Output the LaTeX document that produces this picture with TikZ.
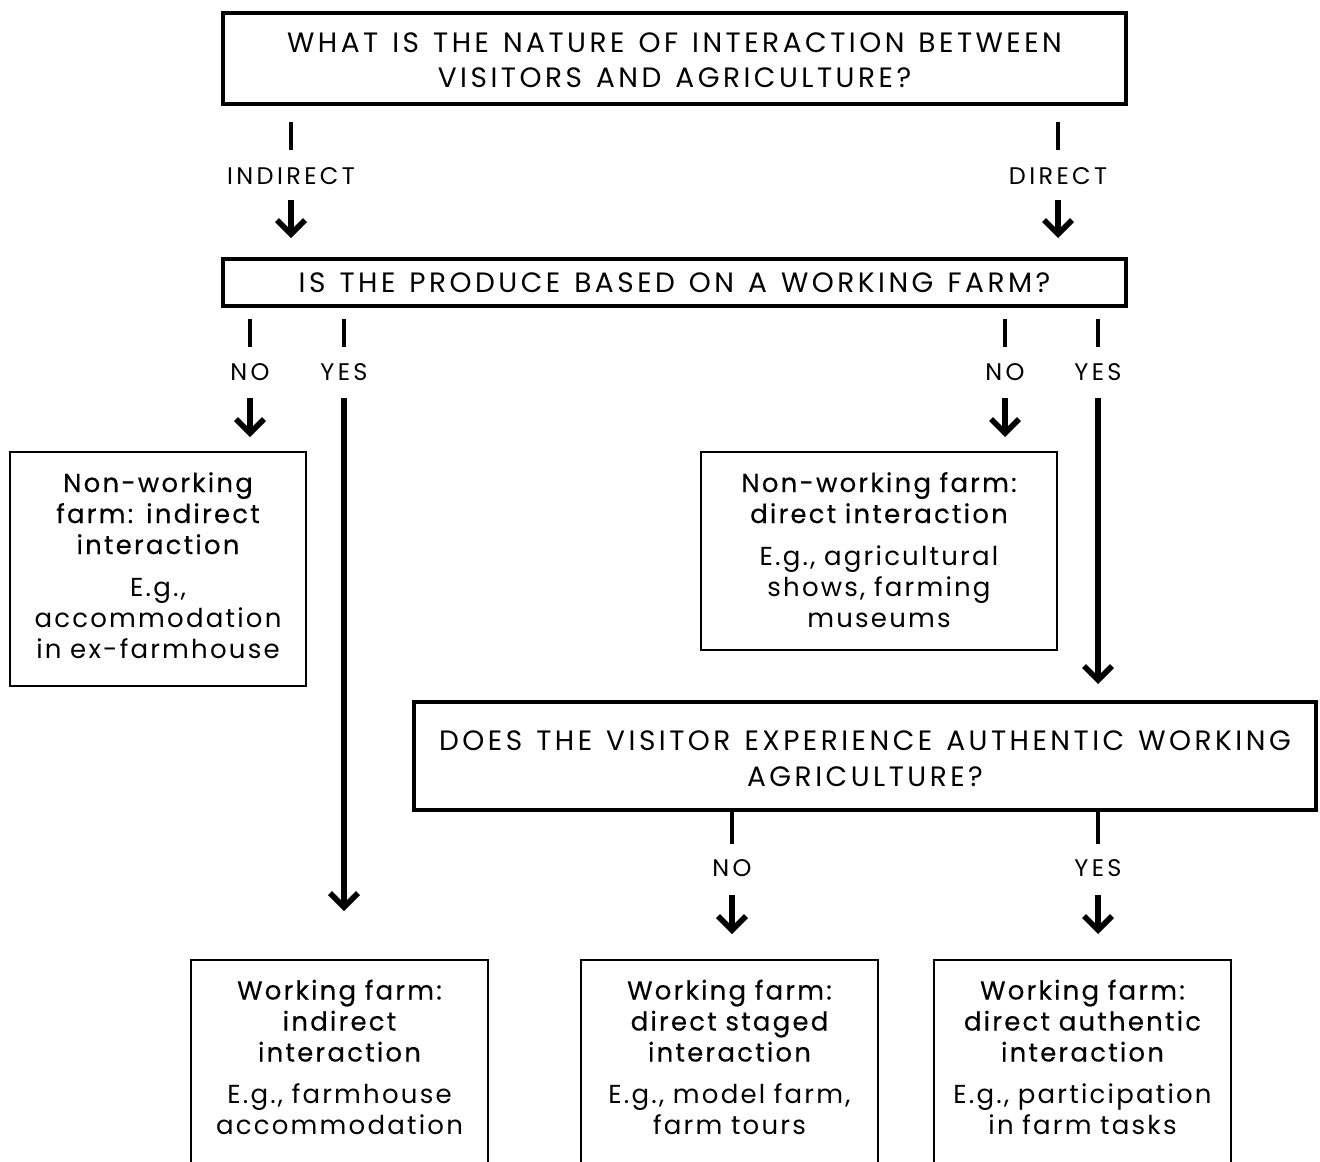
\documentclass[tikz,border=0pt]{standalone}
\usepackage{fontspec}
\setmainfont{Poppins}[LetterSpace=14]
\newfontfamily\qfont{Poppins}[LetterSpace=12.5]
\newfontfamily\headfont{Poppins}[LetterSpace=8.5,FakeBold=0.3]
\newfontfamily\bodyfont{Poppins}[LetterSpace=8.5]
\usetikzlibrary{arrows.meta}
\newcommand\toppad[1]{\rule{0pt}{#1}}
\newcommand\botpad[1]{\rule[-#1]{0pt}{#1}}
\newcommand\hl[1]{{\headfont #1}}
\newcommand\el[1]{{\bodyfont #1}}
\newcommand\qsp{\spaceskip=14pt\relax}
\tikzset{
  thickbox/.style={draw, line width=4pt, inner sep=0pt, align=center, font=\qfont\fontsize{28}{35}\selectfont},
  thinbox/.style={draw, line width=2pt, inner sep=0pt, align=center, font=\fontsize{26}{31}\selectfont},
  lbl/.style={font=\fontsize{24}{28}\selectfont, inner sep=0pt},
  tick/.style={line width=3.5pt},
  arr/.style={line width=5.5pt, -{Straight Barb[length=14pt,width=28pt]}},
}
\begin{document}
\begin{tikzpicture}[x=1pt,y=-1pt]
\fill[white] (0,0) rectangle (1320,1162);
\useasboundingbox (0,0) rectangle (1320,1162);

% question boxes
\node[thickbox, text width=903pt, minimum height=91pt] (q1) at (674.5,58.5)
  {\qsp\toppad{39pt}WHAT IS THE NATURE OF INTERACTION BETWEEN\\VISITORS AND AGRICULTURE?\botpad{17pt}};
\node[thickbox, text width=903pt, minimum height=47pt] (q2) at (674.5,282.5)
  {\qsp\toppad{33pt}IS THE PRODUCE BASED ON A WORKING FARM?\botpad{14pt}};
\node[thickbox, text width=902pt, minimum height=108pt] (q3) at (865,756)
  {\qsp\toppad{48pt}DOES THE VISITOR EXPERIENCE AUTHENTIC WORKING\\[1pt]AGRICULTURE?\botpad{24pt}};

% outcome boxes
\node[thinbox, text width=296pt, minimum height=234pt] (nw1) at (158,569)
  {\toppad{39.5pt}\hl{Non-working}\\\hl{farm: indirect}\\\hl{interaction}\\[11pt]\el{E.g.,}\\\el{accommodation}\\\el{in ex-farmhouse}\botpad{27.5pt}};
\node[thinbox, text width=356pt, minimum height=198pt] (nw2) at (879,551)
  {\toppad{39.5pt}\hl{Non-working farm:}\\\hl{direct interaction}\\[11pt]\el{E.g., agricultural}\\\el{shows, farming}\\\el{museums}\botpad{22.5pt}};

\begin{scope}
\clip (0,0) rectangle (1320,1162);
\node[thinbox, text width=297pt, minimum height=240pt] (wf1) at (339.5,1080)
  {\toppad{39.5pt}\hl{Working farm:}\\\hl{indirect}\\\hl{interaction}\\[11pt]\el{E.g., farmhouse}\\\el{accommodation}\botpad{65.5pt}};
\node[thinbox, text width=297pt, minimum height=240pt] (wf2) at (729.5,1080)
  {\toppad{39.5pt}\hl{Working farm:}\\\hl{direct staged}\\\hl{interaction}\\[11pt]\el{E.g., model farm,}\\\el{farm tours}\botpad{65.5pt}};
\node[thinbox, text width=297pt, minimum height=240pt] (wf3) at (1082.5,1080)
  {\toppad{39.5pt}\hl{Working farm:}\\\hl{direct authentic}\\\hl{interaction}\\[11pt]\el{E.g., participation}\\\el{in farm tasks}\botpad{65.5pt}};
\end{scope}

% labels
\node[lbl] (lInd) at (291,176) {INDIRECT};
\node[lbl] (lDir) at (1058,176) {DIRECT};
\node[lbl] (lNo1) at (250,372) {NO};
\node[lbl] (lYes1) at (344,372) {YES};
\node[lbl] (lNo2) at (1005,372) {NO};
\node[lbl] (lYes2) at (1098,372) {YES};
\node[lbl] (lNo3) at (732,868) {NO};
\node[lbl] (lYes3) at (1098,868) {YES};

% ticks
\draw[tick] ([yshift=-16pt]q1.south -| lInd) -- ([yshift=-44pt]q1.south -| lInd);
\draw[tick] ([yshift=-16pt]q1.south -| lDir) -- ([yshift=-44pt]q1.south -| lDir);
\draw[tick] ([yshift=-11pt]q2.south -| lNo1) -- ([yshift=-39pt]q2.south -| lNo1);
\draw[tick] ([yshift=-11pt]q2.south -| lYes1) -- ([yshift=-39pt]q2.south -| lYes1);
\draw[tick] ([yshift=-11pt]q2.south -| lNo2) -- ([yshift=-39pt]q2.south -| lNo2);
\draw[tick] ([yshift=-11pt]q2.south -| lYes2) -- ([yshift=-39pt]q2.south -| lYes2);
\draw[tick] (q3.south -| lNo3) -- ([yshift=-32pt]q3.south -| lNo3);
\draw[tick] (q3.south -| lYes3) -- ([yshift=-32pt]q3.south -| lYes3);

% arrows
\draw[arr] ([yshift=-24pt]lInd.center) -- ([yshift=19pt]q2.north -| lInd);
\draw[arr] ([yshift=-24pt]lDir.center) -- ([yshift=19pt]q2.north -| lDir);
\draw[arr] ([yshift=-26pt]lNo1.center) -- ([yshift=14pt]nw1.north -| lNo1);
\draw[arr] ([yshift=-26pt]lYes1.center) -- ([yshift=48pt]wf1.north -| lYes1);
\draw[arr] ([yshift=-26pt]lNo2.center) -- ([yshift=14pt]nw2.north -| lNo2);
\draw[arr] ([yshift=-26pt]lYes2.center) -- ([yshift=16pt]q3.north -| lYes2);
\draw[arr] ([yshift=-27pt]lNo3.center) -- ([yshift=25pt]wf2.north -| lNo3);
\draw[arr] ([yshift=-27pt]lYes3.center) -- ([yshift=25pt]wf3.north -| lYes3);
\end{tikzpicture}
\end{document}
